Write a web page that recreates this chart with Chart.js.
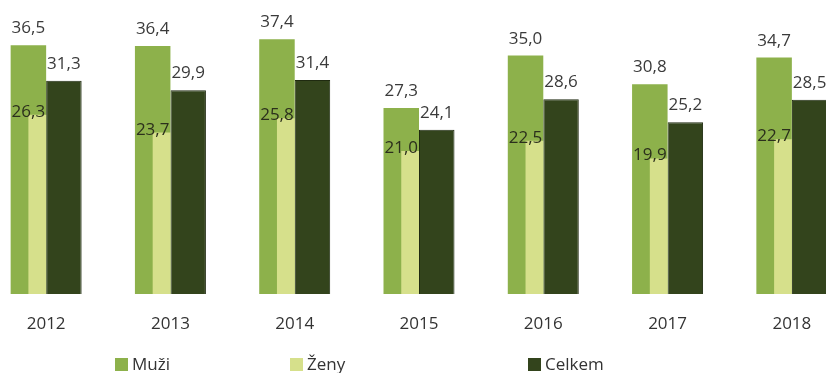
<!DOCTYPE html>
<html lang="cs">
<head>
<meta charset="utf-8">
<title>Muži, ženy, celkem 2012–2018</title>
<script src="https://cdn.jsdelivr.net/npm/chart.js@4.4.1/dist/chart.umd.min.js"></script>
<style>
  html, body { margin: 0; padding: 0; background: #ffffff; }
  body { position: relative; width: 826px; height: 373px; overflow: hidden; font-family: "Open Sans", "Noto Sans", sans-serif; }
  #chart { position: absolute; left: -16px; top: 0; }
  .lg-box { position: absolute; width: 13px; height: 13px; }
  .lg-text { position: absolute; font-size: 17px; line-height: 20px; color: #333333; white-space: nowrap; }
</style>
</head>
<body>
<canvas id="chart" width="870" height="373"></canvas>
<div id="legend"></div>
<script>
// Years on the category axis
const years = ['2012', '2013', '2014', '2015', '2016', '2017', '2018'];

// Series values (per cent)
const muzi   = [36.5, 36.4, 37.4, 27.3, 35.0, 30.8, 34.7];
const zeny   = [26.3, 23.7, 25.8, 21.0, 22.5, 19.9, 22.7];
const celkem = [31.3, 29.9, 31.4, 24.1, 28.6, 25.2, 28.5];

// Series names
const seriesNames = ['Muži', 'Ženy', 'Celkem'];

const colMuzi = '#8db14b';
const colZeny = '#d6e08b';
const colCelkem = '#33441c';
const fontFamily = '"Open Sans", "Noto Sans", sans-serif';

// Bar layout inside one year: the wide bars sit side by side, the narrow
// one overlaps the right half of the first wide bar.
const canvasWidth = 870;
const slot = canvasWidth / years.length;       // pixels per year
const wide = 35.5;                              // width of Muži / Celkem bars
const narrow = wide / 2;                        // width of Ženy bars
const firstYear = +years[0];
const lastYear = +years[years.length - 1];

// A hidden linear axis per series, shifted so that each year's bar lands
// at the wanted offset from the year's centre.
function shiftedAxis(offsetPx) {
  const s = -offsetPx / slot;
  return {
    type: 'linear',
    display: false,
    offset: false,
    min: firstYear - 0.5 + s,
    max: lastYear + 0.5 + s,
    afterBuildTicks: axis => { axis.ticks = years.map(y => ({ value: +y })); }
  };
}

const fmt = v => v.toFixed(1).replace('.', ',');

// Value labels drawn above each bar
const valueLabels = {
  id: 'valueLabels',
  afterDatasetsDraw(chart) {
    const ctx = chart.ctx;
    ctx.save();
    ctx.font = '17px ' + fontFamily;
    ctx.textAlign = 'center';
    ctx.textBaseline = 'alphabetic';
    const idxMuzi = chart.data.datasets.findIndex(d => d.label === 'Muži');
    const muziMeta = chart.getDatasetMeta(idxMuzi);
    chart.data.datasets.forEach((ds, di) => {
      const meta = chart.getDatasetMeta(di);
      meta.data.forEach((bar, i) => {
        const v = ds.data[i];
        if (v == null) return;
        if (ds.label === 'Ženy') {
          // at the top of the narrow bar, centred on the wide bar it overlaps
          const ref = muziMeta.data[i];
          ctx.fillStyle = '#2b2f1c';
          ctx.fillText(fmt(v), ref.x, bar.y + 2);
        } else {
          ctx.fillStyle = '#3a3a3a';
          ctx.fillText(fmt(v), bar.x, bar.y - 12);
        }
      });
    });
    ctx.restore();
  }
};

new Chart(document.getElementById('chart'), {
  type: 'bar',
  data: {
    labels: years,
    datasets: [
      // drawn last (on top)
      { label: 'Ženy', data: zeny, xAxisID: 'xz', grouped: false,
        backgroundColor: colZeny, borderWidth: 0,
        categoryPercentage: narrow / slot, barPercentage: 1 },
      { label: 'Muži', data: muzi, xAxisID: 'xm', grouped: false,
        backgroundColor: colMuzi, borderWidth: 0,
        categoryPercentage: wide / slot, barPercentage: 1 },
      { label: 'Celkem', data: celkem, xAxisID: 'xc', grouped: false,
        backgroundColor: colCelkem, borderColor: '#1f2a10', borderWidth: 1,
        categoryPercentage: wide / slot, barPercentage: 1 }
    ]
  },
  options: {
    responsive: false,
    animation: false,
    layout: { padding: { top: 21.5, bottom: 18.6, left: 0, right: 0 } },
    plugins: { legend: { display: false }, tooltip: { enabled: false } },
    scales: {
      x: {
        type: 'category',
        offset: true,
        grid: { display: false, drawTicks: false },
        border: { display: false },
        ticks: { padding: 20, color: '#333333', font: { family: fontFamily, size: 17 } }
      },
      xm: shiftedAxis(-wide / 2),
      xz: shiftedAxis(-narrow / 2),
      xc: shiftedAxis(wide / 2),
      y: {
        display: false,
        min: 0,
        max: 40
      }
    }
  },
  plugins: [valueLabels]
});

// Legend along the bottom edge
const legendColors = [colMuzi, colZeny, colCelkem];
const legendX = [115, 290, 528];
const legend = document.getElementById('legend');
seriesNames.forEach((name, i) => {
  const box = document.createElement('span');
  box.className = 'lg-box';
  box.style.left = legendX[i] + 'px';
  box.style.top = '358px';
  box.style.background = legendColors[i];
  const txt = document.createElement('span');
  txt.className = 'lg-text';
  txt.style.left = (legendX[i] + 17) + 'px';
  txt.style.top = '354px';
  txt.textContent = name;
  legend.appendChild(box);
  legend.appendChild(txt);
});
</script>
</body>
</html>
